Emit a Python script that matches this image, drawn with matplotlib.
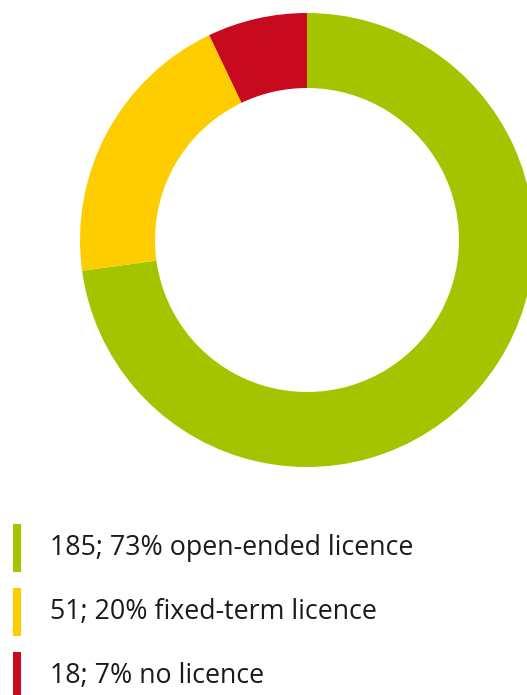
import matplotlib.pyplot as plt
from matplotlib.patches import Rectangle

# licence counts and shares
counts = [185, 51, 18]
shares = [73, 20, 7]
labels = ["open-ended licence", "fixed-term licence", "no licence"]
colors = ["#a5c400", "#fecd00", "#c80a1e"]

fig = plt.figure(figsize=(5.27, 6.95), dpi=100)
ax = fig.add_axes([0, 0, 1, 1])

ax.pie(counts, colors=colors, startangle=90, counterclock=False,
       center=(307, 455), radius=227,
       wedgeprops=dict(width=75, edgecolor="none"))

ax.set_xlim(0, 527)
ax.set_ylim(0, 695)
ax.set_aspect("equal")
ax.axis("off")

# legend: thin colour bars with text
legend_y = [147, 83, 19]
for y, c, n, s, lab in zip(legend_y, colors, counts, shares, labels):
    ax.add_patch(Rectangle((13, y - 24), 8, 48, color=c, lw=0))
    ax.text(50, y, f"{n}; {s}% {lab}", va="center", ha="left",
            fontsize=19.3, family="Open Sans", color="#1a1a1a")

fig.savefig("out.png", dpi=100)
